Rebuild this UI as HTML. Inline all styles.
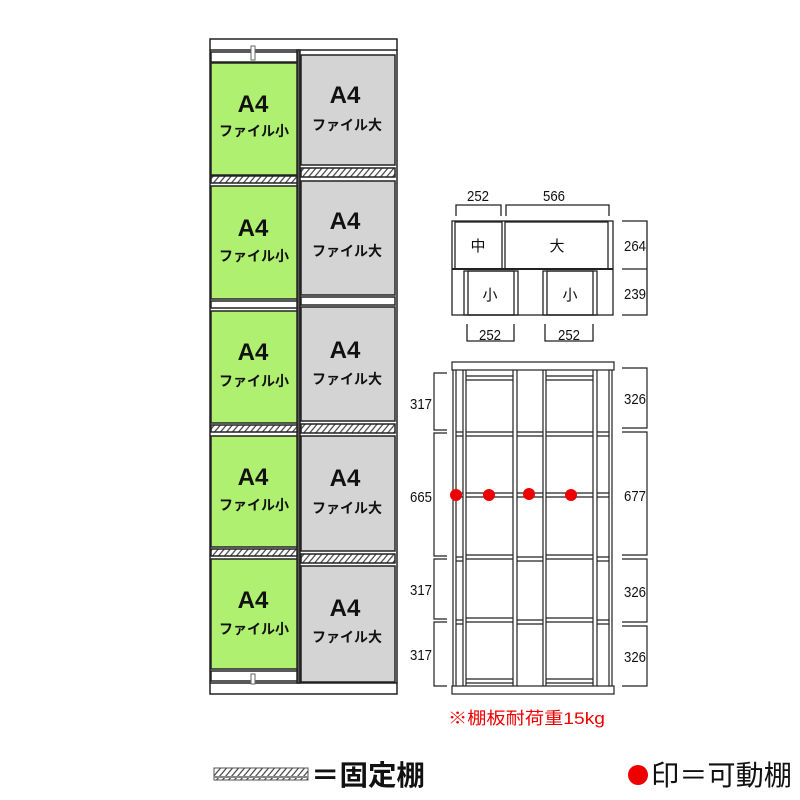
<!DOCTYPE html>
<html><head><meta charset="utf-8"><style>
body{margin:0;background:#fff}
svg{display:block}
text{font-family:"Liberation Sans","Noto Sans CJK JP",sans-serif}
</style></head><body>
<svg width="800" height="800" viewBox="0 0 800 800" xmlns="http://www.w3.org/2000/svg">
<defs>
<pattern id="h" width="6" height="10" patternUnits="userSpaceOnUse" patternTransform="skewX(-40)">
<rect width="6" height="10" fill="#fff"/><line x1="1" y1="0" x2="1" y2="10" stroke="#444" stroke-width="1.6"/></pattern>
</defs>
<g stroke="#222" stroke-width="1.5">
<rect x="210" y="39" width="187" height="11" fill="#fff"/>
<rect x="210" y="683" width="187" height="11" fill="#fff"/>
<line x1="210" y1="50" x2="210" y2="683"/><line x1="397" y1="50" x2="397" y2="683"/>
<rect x="297" y="50" width="3" height="633" fill="#555"/>
<rect x="211" y="52" width="86" height="10" fill="#fff"/>
<rect x="211" y="63" width="86" height="112" fill="#b0f070"/>
<rect x="211" y="176" width="86" height="7" fill="url(#h)"/>
<rect x="211" y="186" width="86" height="113" fill="#b0f070"/>
<rect x="211" y="301" width="86" height="7" fill="#fff"/>
<rect x="211" y="311" width="86" height="112" fill="#b0f070"/>
<rect x="211" y="425" width="86" height="7" fill="url(#h)"/>
<rect x="211" y="436" width="86" height="111" fill="#b0f070"/>
<rect x="211" y="549" width="86" height="7" fill="url(#h)"/>
<rect x="211" y="559" width="86" height="110" fill="#b0f070"/>
<rect x="211" y="671" width="86" height="10" fill="#fff"/>
<rect x="301" y="55" width="94" height="110" fill="#d4d4d4"/>
<rect x="301" y="168" width="94" height="9" fill="url(#h)"/>
<rect x="301" y="181" width="94" height="114" fill="#d4d4d4"/>
<rect x="301" y="297" width="94" height="8" fill="#fff"/>
<rect x="301" y="307" width="94" height="114" fill="#d4d4d4"/>
<rect x="301" y="424" width="94" height="9" fill="url(#h)"/>
<rect x="301" y="436" width="94" height="115" fill="#d4d4d4"/>
<rect x="301" y="554" width="94" height="9" fill="url(#h)"/>
<rect x="301" y="566" width="94" height="116" fill="#d4d4d4"/>
</g>
<g stroke="#666" stroke-width="1" fill="#fff">
<rect x="251" y="46" width="4" height="14"/><rect x="251" y="674" width="4" height="10"/>
</g>
<g font-weight="bold" fill="#111" text-anchor="middle">
<g font-size="24"><text x="253" y="112">A4</text><text x="253" y="236">A4</text><text x="253" y="360">A4</text><text x="253" y="485">A4</text><text x="253" y="608">A4</text>
<text x="345" y="103">A4</text><text x="345" y="229">A4</text><text x="345" y="358">A4</text><text x="345" y="486">A4</text><text x="345" y="616">A4</text></g>
<g font-size="14"><text x="254" y="136">ファイル小</text><text x="254" y="261">ファイル小</text><text x="254" y="386">ファイル小</text><text x="254" y="510">ファイル小</text><text x="254" y="634">ファイル小</text>
<text x="347" y="130">ファイル大</text><text x="347" y="256">ファイル大</text><text x="347" y="384">ファイル大</text><text x="347" y="513">ファイル大</text><text x="347" y="642">ファイル大</text></g>
</g>
<g stroke="#222" stroke-width="1.3" fill="none">
<rect x="452" y="221" width="161" height="94"/>
<line x1="452" y1="269" x2="613" y2="269" stroke-width="2"/>
<rect x="455" y="222" width="47" height="47"/><rect x="505" y="222" width="103" height="47"/>
<rect x="464" y="271" width="54" height="44"/><rect x="468" y="271" width="46" height="44"/>
<rect x="543" y="271" width="54" height="44"/><rect x="547" y="271" width="46" height="44"/>
<path d="M456 216V205H501V216M506 216V205H609V216"/>
<path d="M467 324V341H514V324M545 324V341H593V324"/>
<path d="M622 221H647V315H622M622 269H647"/>
</g>
<g font-size="15" fill="#111" text-anchor="middle">
<text x="478" y="201" textLength="22" lengthAdjust="spacingAndGlyphs">252</text><text x="554" y="201" textLength="22" lengthAdjust="spacingAndGlyphs">566</text>
<text x="490" y="340" textLength="22" lengthAdjust="spacingAndGlyphs">252</text><text x="569" y="340" textLength="22" lengthAdjust="spacingAndGlyphs">252</text>
<text x="635" y="251" textLength="22" lengthAdjust="spacingAndGlyphs">264</text><text x="635" y="299" textLength="22" lengthAdjust="spacingAndGlyphs">239</text>
<text x="478" y="251">中</text><text x="557" y="251">大</text>
<text x="490" y="300">小</text><text x="570" y="300">小</text>
</g>
<g stroke="#222" stroke-width="1.2" fill="none">
<rect x="452" y="362" width="162" height="8" fill="#fff"/>
<rect x="452" y="686" width="162" height="8" fill="#fff"/>
<path d="M453 370V686M456 370V686M609 370V686M612 370V686"/>
<path d="M463 370V686M466 370V686M513 370V686M517 370V686"/>
<path d="M543 370V686M546 370V686M593 370V686M597 370V686"/>
<path d="M466 376H513M466 380H513M546 376H593M546 380H593"/>
<path d="M466 679H513M466 683H513M546 679H593M546 683H593"/>
<path d="M456 432H463M456 436H463M466 432H513M466 436H513M517 432H543M517 436H543M546 432H593M546 436H593M597 432H609M597 436H609"/>
<path d="M456 493H463M456 497H463M466 493H513M466 497H513M517 493H543M517 497H543M546 493H593M546 497H593M597 493H609M597 497H609"/>
<path d="M456 557H463M456 561H463M466 555H513M466 559H513M517 557H543M517 561H543M546 555H593M546 559H593M597 557H609M597 561H609"/>
<path d="M456 620H463M456 624H463M466 618H513M466 622H513M517 620H543M517 624H543M546 618H593M546 622H593M597 620H609M597 624H609"/>
<path d="M447 373H434V430H447M447 433H434V556H447M447 559H434V619H447M447 622H434V686H447"/>
<path d="M622 368H647V428H622M622 432H647V555H622M622 559H647V622H622M622 626H647V686H622"/>
</g>
<g fill="#e00"><circle cx="456" cy="495" r="6"/><circle cx="489" cy="495" r="6"/><circle cx="529" cy="494" r="6"/><circle cx="571" cy="495" r="6"/></g>
<g font-size="15" fill="#111" text-anchor="middle">
<text x="421" y="409" textLength="22" lengthAdjust="spacingAndGlyphs">317</text><text x="421" y="502" textLength="22" lengthAdjust="spacingAndGlyphs">665</text><text x="421" y="595" textLength="22" lengthAdjust="spacingAndGlyphs">317</text><text x="421" y="660" textLength="22" lengthAdjust="spacingAndGlyphs">317</text>
<text x="635" y="404" textLength="22" lengthAdjust="spacingAndGlyphs">326</text><text x="635" y="501" textLength="22" lengthAdjust="spacingAndGlyphs">677</text><text x="635" y="597" textLength="22" lengthAdjust="spacingAndGlyphs">326</text><text x="635" y="662" textLength="22" lengthAdjust="spacingAndGlyphs">326</text>
</g>
<text x="448" y="724" font-size="17" fill="#e00" textLength="157" lengthAdjust="spacingAndGlyphs">※棚板耐荷重15kg</text>
<rect x="214" y="768" width="94" height="12" fill="url(#h)" stroke="#555" stroke-width="1"/>
<line x1="214" y1="777" x2="308" y2="777" stroke="#888" stroke-width="2"/>
<text x="311" y="785" font-size="28" font-weight="bold" fill="#111" textLength="114" lengthAdjust="spacingAndGlyphs">＝固定棚</text>
<circle cx="638" cy="775" r="10" fill="#e00"/>
<text x="651" y="785" font-size="28" fill="#111" textLength="141" lengthAdjust="spacingAndGlyphs">印＝可動棚</text>
</svg>
</body></html>
